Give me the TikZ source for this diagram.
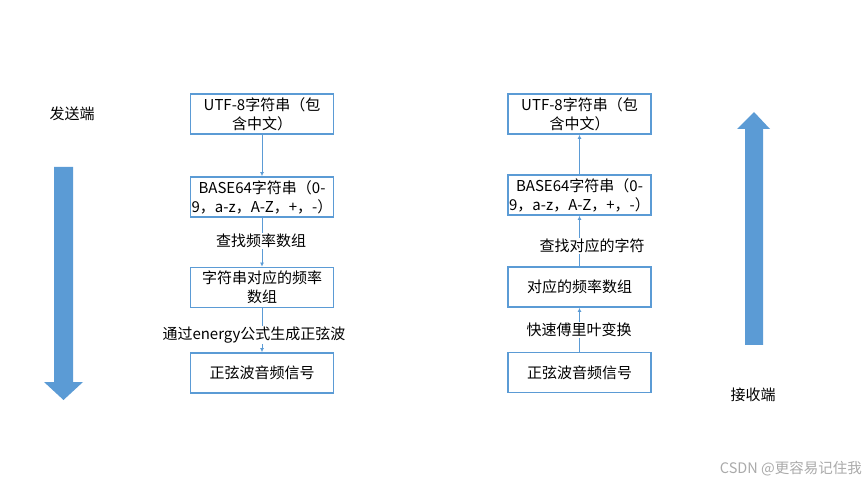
\documentclass[tikz,border=0pt]{standalone}
\usepackage{fontspec}
\setmainfont{Noto Sans CJK SC}
\usepackage{tikz}
\usetikzlibrary{arrows.meta}
\definecolor{boxblue}{RGB}{91,155,213}
\definecolor{markgray}{RGB}{170,170,170}
\tikzset{stepbox/.style={draw=boxblue, line width=1.8pt, minimum width=143pt, minimum height=40pt, inner sep=1pt, align=center, font=\fontsize{15}{19}\selectfont}}
\tikzset{steplabel/.style={fill=white, inner sep=1pt, font=\fontsize{15}{19}\selectfont}}
\tikzset{flow/.style={draw=boxblue, line width=1pt, -{Latex[length=4pt,width=4pt]}}}

\begin{document}
\begin{tikzpicture}[x=1pt, y=-1pt]
\useasboundingbox (0,0) rectangle (865,486);
% sender side
\draw (262,114) node[stepbox] (s1) {UTF-8字符串（包\\含中文）};
\draw (262,197) node[stepbox] (s2) {BASE64字符串（0-\\9，a-z，A-Z，+，-）};
\draw (262,287.5) node[stepbox] (s3) {字符串对应的频率\\数组};
\draw (262,373) node[stepbox] (s4) {正弦波音频信号};
\draw [flow] (s1)--(s2);
\draw [flow] (s2)--(s3);
\draw [flow] (s3)--(s4);
\draw (261,241) node[steplabel] (l1) {查找频率数组};
\draw (254,335) node[steplabel] (l2) {通过energy公式生成正弦波};
\draw (72,114) node[font=\fontsize{15}{19}\selectfont] (send) {发送端};
\fill [boxblue] (54,167) -- (73,167) -- (73,382) -- (83,382) -- (63.5,400) -- (44,382) -- (54,382) -- cycle;
% receiver side
\draw (579.5,114) node[stepbox] (r1) {UTF-8字符串（包\\含中文）};
\draw (579.5,195) node[stepbox] (r2) {BASE64字符串（0-\\9，a-z，A-Z，+，-）};
\draw (579.5,287) node[stepbox] (r3) {对应的频率数组};
\draw (579.5,372.5) node[stepbox] (r4) {正弦波音频信号};
\draw [flow] (r4)--(r3);
\draw [flow] (r3)--(r2);
\draw [flow] (r2)--(r1);
\draw (592,246) node[steplabel] (l3) {查找对应的字符};
\draw (579,330) node[steplabel] (l4) {快速傅里叶变换};
\draw (753,395) node[font=\fontsize{15}{19}\selectfont] (recv) {接收端};
\fill [boxblue] (745,345) -- (763,345) -- (763,129) -- (770,129) -- (754,112) -- (737,129) -- (745,129) -- cycle;
\draw (862,469) node[anchor=east, inner sep=0pt, text=markgray, font=\fontsize{14.5}{16}\selectfont] (mark) {CSDN @更容易记住我};
\end{tikzpicture}
\end{document}
